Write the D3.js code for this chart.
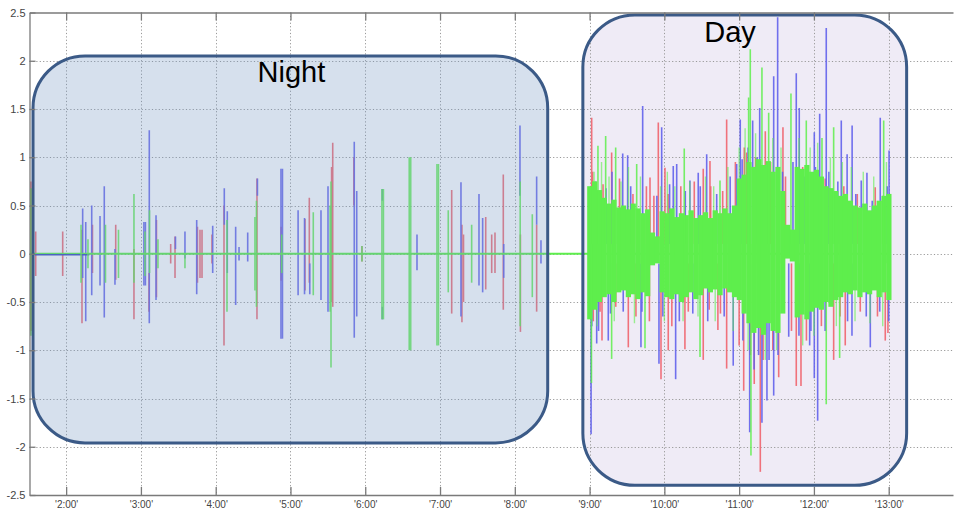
<!DOCTYPE html>
<html><head><meta charset="utf-8">
<script src="https://cdn.jsdelivr.net/npm/d3@7"></script>
<style>
body{margin:0;background:#fff}
svg{display:block}
text{font-family:"Liberation Sans",Arial,Helvetica,sans-serif}
</style>
</head><body>
<svg id="c" width="954" height="512"></svg>
<script>
// ---------- DATA ----------
const yTicks = [2.5, 2, 1.5, 1, 0.5, 0, -0.5, -1, -1.5, -2, -2.5];
const xTickHours = [2, 3, 4, 5, 6, 7, 8, 9, 10, 11, 12, 13];
const xTickLabels = ["'2:00'", "'3:00'", "'4:00'", "'5:00'", "'6:00'", "'7:00'", "'8:00'", "'9:00'", "'10:00'", "'11:00'", "'12:00'", "'13:00'"];
const timeDomain = [1.51, 13.86];
const periods = [
  {name: "Night", start: 1.557, end: 8.44, top: 2.05, bottom: -1.96},
  {name: "Day", start: 8.91, end: 13.24, top: 2.475, bottom: -2.4}
];

// spikes: [time (h), upper value, lower value]
const redSpikes = [
  [1.528, 0.75, -0.80], [1.593, 0.23, -0.23], [1.954, 0.23, -0.23], [2.212, 0.25, -0.72], [2.352, 0.30, -0.20],
  [2.663, 0.30, -0.27], [2.907, 0.05, -0.68], [3.108, -0.20, -0.60], [3.208, 0.35, -0.45], [3.398, 0.10, -0.10],
  [3.456, 0.18, -0.25], [3.756, 0.28, -0.30], [3.790, 0.25, -0.25], [3.817, 0.25, -0.25], [3.950, 0.20, -0.10],
  [4.111, 0.50, -0.95], [4.552, 0.78, -0.68], [4.875, 0.28, -0.28], [5.194, 0.36, -0.38], [5.252, 0.58, -0.30],
  [5.550, 0.90, -0.50], [5.565, 1.15, -0.55], [5.848, 1.00, 0.50], [5.956, 0.08, -0.08], [7.156, 0.66, -0.62],
  [7.293, 0.30, -0.71], [7.314, 0.20, -0.50], [7.611, 0.38, -0.37], [7.691, 0.20, -0.20], [7.735, 0.22, -0.20],
  [7.846, 0.82, -0.58], [8.075, 0.20, -0.81], [8.292, 0.30, -0.60],
  // day, upward
  [9.028, 1.41, 0.1], [9.295, 1.05, 0.1], [9.808, 0.79, 0.0], [9.919, 1.36, 0.1], [10.008, 0.89, 0.1],
  [10.520, 0.88, 0.1], [10.610, 0.96, 0.1], [10.833, 1.39, 0.1], [11.069, 1.10, 0.1], [11.350, 1.27, 0.1],
  [11.586, 1.31, 0.1], [12.820, 0.69, 0.1],
  [9.04, 0.85, 0.1], [9.18, 0.72, 0.1], [9.40, 0.78, 0.1], [9.58, 0.62, 0.1], [9.76, 0.70, 0.1], [9.86, 0.60, 0.0],
  [10.05, 0.62, 0.1], [10.22, 0.70, 0.1], [10.40, 0.75, 0.1], [10.62, 0.70, 0.1], [10.78, 0.65, 0.1], [10.95, 0.95, 0.1],
  [11.10, 1.05, 0.1], [11.22, 1.00, 0.1], [11.42, 0.95, 0.1], [11.62, 0.80, 0.0], [11.85, 0.90, 0.1], [12.15, 0.78, 0.1],
  [12.40, 0.70, 0.1], [12.58, 0.62, 0.1], [12.92, 0.60, 0.1],
  // day, downward
  [9.166, -0.1, -0.90], [9.518, -0.1, -0.97], [9.955, -0.1, -1.30], [10.052, -0.1, -1.00], [10.275, -0.1, -0.99],
  [10.520, -0.1, -1.10], [10.716, -0.1, -0.79], [10.833, -0.1, -1.19], [11.061, -0.1, -1.42], [11.202, -0.1, -1.35],
  [11.283, -0.1, -2.26], [11.529, -0.1, -1.28], [11.764, -0.1, -1.37], [11.827, -0.1, -1.37], [12.264, -0.1, -1.10],
  [12.419, -0.1, -0.95], [12.954, -0.1, -0.90],
  [9.05, -0.1, -0.70], [9.14, -0.1, -0.60], [9.35, -0.1, -0.55], [9.62, -0.1, -0.65], [9.80, -0.1, -0.70], [10.10, -0.1, -0.75],
  [10.32, -0.1, -0.60], [10.60, -0.1, -0.58], [10.75, -0.1, -0.62], [11.00, -0.1, -0.95], [11.15, -0.1, -1.05], [11.32, -0.1, -1.10],
  [11.45, -0.1, -1.00], [11.70, -0.1, -0.80], [11.90, -0.1, -0.90], [12.10, -0.1, -0.75], [12.35, -0.1, -0.65], [12.62, -0.1, -0.60],
  [12.85, -0.1, -0.65], [12.99, -0.1, -0.82]
];

const blueSpikes = [
  [2.221, 0.47, -0.25], [2.262, 0.33, -0.70], [2.342, 0.50, -0.43], [2.453, 0.39, -0.33], [2.510, 0.70, -0.66],
  [2.653, 0.05, -0.32], [3.040, 0.33, -0.33], [3.060, 0.33, -0.33], [3.112, 1.28, -0.72], [3.202, 0.40, -0.48],
  [3.462, 0.18, 0.05], [3.589, 0.23, -0.05], [3.746, 0.35, -0.42], [3.960, 0.29, -0.20], [4.115, 0.68, 0.30],
  [4.155, 0.44, -0.20], [4.267, 0.28, -0.53], [4.312, 0.07, -0.07], [4.428, 0.22, -0.08], [4.558, 0.78, 0.60],
  [4.873, 0.88, -0.88], [4.893, 0.88, -0.88], [5.102, 0.45, -0.43], [5.188, 0.37, -0.42], [5.258, -0.10, -0.42],
  [5.408, 0.45, -0.48], [5.502, 0.70, -0.60], [5.853, 1.16, -0.87], [5.886, 0.65, -0.65], [6.228, 0.67, 0.55],
  [6.228, -0.55, -0.68], [6.692, 0.20, -0.17], [7.280, 0.74, -0.65], [7.521, 0.62, -0.33], [7.570, 0.37, -0.40],
  [7.852, 0.10, -0.25], [8.069, 1.33, 0.60], [8.292, 0.80, 0.30], [8.350, 0.14, -0.10],
  // day, upward
  [9.443, 1.04, 0.1], [9.509, 1.02, 0.1], [9.710, 1.53, 0.1], [9.964, 1.31, 0.1], [10.119, 0.91, 0.1],
  [10.165, 0.93, 0.1], [10.342, 0.76, 0.1], [10.453, 0.84, 0.1], [10.566, 1.03, 0.1], [10.967, 0.93, 0.1],
  [11.015, 1.39, 0.1], [11.181, 1.38, 0.1], [11.275, 1.51, 0.1], [11.462, 1.84, 0.1], [11.515, 2.45, 0.1],
  [11.764, 1.87, 0.1], [11.804, 1.51, 0.1], [12.005, 1.26, 0.1], [12.077, 1.45, 0.1], [12.165, 2.34, 0.1],
  [12.366, 1.38, 0.1], [12.444, 1.03, 0.1], [12.511, 1.33, 0.1], [12.633, 0.76, 0.1], [12.709, 0.84, 0.1],
  [12.887, 1.41, 0.1], [13.005, 1.07, 0.1],
  [9.08, 0.75, 0.1], [9.22, 0.68, 0.1], [9.30, 0.85, 0.1], [9.55, 0.70, 0.1], [9.90, 0.60, 0.1], [10.07, 0.72, 0.1],
  [10.28, 0.65, 0.1], [10.48, 0.70, 0.1], [10.70, 0.62, 0.1], [10.88, 0.80, 0.1], [11.04, 0.98, 0.1], [11.12, 1.10, 0.1],
  [11.24, 1.00, 0.1], [11.36, 0.92, 0.1], [11.58, 0.85, 0.1], [11.72, 0.95, 0.0], [11.88, 0.80, 0.1], [12.02, 0.90, 0.1],
  [12.20, 0.85, 0.1], [12.32, 0.75, 0.1], [12.56, 0.62, 0.1], [12.78, 0.55, 0.1], [12.98, 0.70, 0.1],
  // day, downward
  [9.020, -0.1, -1.87], [9.095, -0.1, -0.93], [9.250, -0.1, -0.90], [9.687, -0.1, -0.97], [9.928, -0.1, -1.14],
  [10.151, -0.1, -1.30], [10.921, -0.1, -1.16], [11.141, -0.1, -1.85], [11.305, -0.1, -1.75], [11.372, -0.1, -1.52],
  [11.462, -0.1, -1.47], [11.663, -0.1, -0.86], [11.943, -0.1, -0.95], [12.005, -0.1, -1.29], [12.050, -0.1, -1.73],
  [12.509, -0.1, -0.85], [12.754, -0.1, -0.97],
  [9.03, -0.1, -0.75], [9.12, -0.1, -0.80], [9.28, -0.1, -0.62], [9.45, -0.1, -0.60], [9.70, -0.1, -0.60], [9.98, -0.1, -0.65],
  [10.20, -0.1, -0.70], [10.38, -0.1, -0.62], [10.58, -0.1, -0.70], [10.80, -0.1, -0.65], [11.05, -0.1, -0.90], [11.20, -0.1, -1.20],
  [11.26, -0.1, -1.05], [11.40, -0.1, -1.10], [11.52, -0.1, -1.05], [11.80, -0.1, -0.85], [11.96, -0.1, -0.80], [12.15, -0.1, -0.80],
  [12.45, -0.1, -0.70], [12.70, -0.1, -0.65], [12.88, -0.1, -0.60], [13.00, -0.1, -0.70]
];

const greenSpikes = [
  [1.528, 0.68, -0.85], [2.199, 0.30, -0.30], [2.292, 0.15, -0.15], [2.526, 0.30, -0.30], [2.700, 0.25, -0.25],
  [2.907, 0.62, -0.30], [3.054, 0.23, -0.23], [3.115, 0.45, -0.20], [3.228, 0.15, -0.15], [3.589, 0.00, -0.15],
  [4.151, 0.35, -0.60], [4.525, 0.38, -0.38], [4.545, 0.55, -0.55], [4.883, 0.20, -0.20], [5.305, 0.43, -0.43],
  [5.530, 0.50, -0.60], [5.542, 0.75, -1.18], [5.956, 0.08, -0.08], [6.223, 0.67, -0.68], [6.243, 0.67, -0.68],
  [6.588, 1.00, -1.00], [6.608, 1.00, -1.00], [6.959, 0.93, -0.95], [6.979, 0.93, -0.95], [7.110, 0.45, -0.40],
  [7.423, 0.30, -0.30], [8.072, 0.75, -0.75], [8.234, 0.41, -0.45],
  // day
  [9.025, 0.10, -1.34], [9.112, 1.12, 0.1], [9.215, 1.22, 0.1], [9.295, 0.1, -1.09], [9.349, 1.10, 0.1],
  [9.630, 0.93, 0.1], [9.741, 0.1, -0.98], [10.266, 1.09, 0.1], [10.477, 0.1, -1.07], [10.744, 0.76, 0.1],
  [11.127, 1.62, 0.1], [11.149, 2.12, 0.1], [11.158, 0.1, -2.09], [11.305, 1.93, 0.1], [11.395, 1.46, 0.1],
  [11.693, 1.66, 0.1], [11.898, 1.38, 0.1], [12.108, 1.20, 0.1], [12.165, 0.1, -1.56], [12.264, 1.31, 0.1],
  [12.344, 0.1, -1.08], [12.933, 1.38, 0.1]
];

// lighter daytime green strokes that stick out of the dense band
const greenDayStrokes = [
  [9.06, 0.85, -0.1], [9.16, 0.95, -0.1], [9.26, 0.80, -0.1], [9.42, 0.75, -0.1], [9.52, 0.90, -0.1], [9.68, 0.80, -0.1],
  [9.95, 0.70, -0.1], [10.04, 0.85, -0.1], [10.14, 0.70, -0.1], [10.34, 0.75, -0.1], [10.55, 0.80, -0.1], [10.66, 0.70, -0.1],
  [10.85, 0.90, -0.1], [11.00, 1.10, -0.1], [11.08, 1.30, -0.1], [11.22, 1.25, -0.1], [11.45, 1.20, -0.1], [11.56, 1.10, -0.1],
  [11.80, 1.20, -0.1], [11.95, 1.10, -0.1], [12.05, 1.15, -0.1], [12.22, 1.00, -0.1], [12.38, 0.95, -0.1], [12.50, 0.90, -0.1],
  [12.66, 0.85, -0.1], [12.80, 0.80, -0.1], [12.97, 0.95, -0.1],
  [9.10, 0.1, -0.75], [9.33, 0.1, -0.70], [9.60, 0.1, -0.72], [10.00, 0.1, -0.70], [10.25, 0.1, -0.70], [10.45, 0.1, -0.65],
  [10.68, 0.1, -0.70], [10.92, 0.1, -0.80], [11.12, 0.1, -1.00], [11.35, 0.1, -1.10], [11.50, 0.1, -1.00], [11.85, 0.1, -0.95],
  [12.00, 0.1, -0.85], [12.30, 0.1, -0.75], [12.55, 0.1, -0.70], [12.75, 0.1, -0.72], [12.92, 0.1, -0.75]
];

// dense daytime green band, upper and lower envelope from 9:00 to 13:00
const dayBandStart = 9.0, dayBandEnd = 13.0;
const dayGreenTop = [0.70, 0.75, 0.66,
  0.58, 0.52, 0.56, 0.48, 0.50, 0.46, 0.52, 0.47, 0.42, 0.46,
  0.22, 0.18,
  0.44, 0.42, 0.47, 0.38, 0.42, 0.40, 0.45, 0.37, 0.40, 0.43, 0.37, 0.45, 0.42, 0.47, 0.42, 0.50,
  0.78, 0.82, 0.95, 0.90, 0.98, 0.92, 0.96, 0.85, 0.90, 0.65,
  0.30, 0.25,
  0.90, 0.88, 0.92, 0.85, 0.87, 0.80,
  0.70, 0.68, 0.65, 0.60, 0.62, 0.55, 0.50, 0.48, 0.52, 0.45, 0.50, 0.55, 0.60, 0.62];
const dayGreenBottom = [-0.68, -0.58, -0.50,
  -0.45, -0.42, -0.50, -0.40, -0.38, -0.45, -0.42, -0.47, -0.40, -0.44,
  -0.12, -0.10,
  -0.40, -0.45, -0.47, -0.42, -0.50, -0.45, -0.40, -0.47, -0.43, -0.36, -0.40, -0.37, -0.43, -0.36, -0.40, -0.45,
  -0.48, -0.62, -0.72, -0.82, -0.77, -0.84, -0.72, -0.80, -0.82, -0.62,
  -0.05, -0.08,
  -0.66, -0.63, -0.68, -0.60, -0.56, -0.58,
  -0.50, -0.55, -0.48, -0.45, -0.40, -0.42, -0.38, -0.45, -0.40, -0.42, -0.38, -0.45, -0.40, -0.48];

const greenBaseline = [[1.51, 0], [13.0, 0]];
const blueBaseline = [[1.58, -0.01], [2.31, -0.01]];

// ---------- DRAW ----------
const W = 954, H = 512;
const svg = d3.select("#c");
const x = d3.scaleLinear().domain(timeDomain).range([29.5, 953]);
const y = d3.scaleLinear().domain([-2.5, 2.5]).range([495, 12.5]);
const C = {red: "#f0646e", blue: "#6262ec", green: "#5eee4c", box: "#3b5a87"};

svg.append("defs").append("clipPath").attr("id", "plot")
  .append("rect").attr("x", x.range()[0]).attr("y", y(2.5)).attr("width", W - x.range()[0]).attr("height", y(-2.5) - y(2.5));

const boxR = 52;
function boxAttrs(sel, p) {
  sel.attr("x", x(p.start)).attr("y", y(p.top))
    .attr("width", x(p.end) - x(p.start)).attr("height", y(p.bottom) - y(p.top))
    .attr("rx", boxR).attr("ry", boxR);
}

// day box fill (under data)
svg.append("rect").call(boxAttrs, periods[1]).attr("fill", "#efebf6");

// grid
const grid = svg.append("g").attr("stroke", "#9a9a9a").attr("stroke-width", 1).attr("stroke-dasharray", "1.2,2.2");
grid.selectAll(".v").data(xTickHours).join("line")
  .attr("x1", d => Math.round(x(d)) + 0.5).attr("x2", d => Math.round(x(d)) + 0.5)
  .attr("y1", y(2.5)).attr("y2", y(-2.5));
grid.selectAll(".h").data(yTicks.filter(d => d !== 2.5 && d !== -2.5)).join("line")
  .attr("y1", d => Math.round(y(d)) + 0.5).attr("y2", d => Math.round(y(d)) + 0.5)
  .attr("x1", x.range()[0]).attr("x2", W);

// data
const data = svg.append("g").attr("clip-path", "url(#plot)");
function spikes(arr, color, w, op) {
  data.append("g").selectAll("line").data(arr).join("line")
    .attr("x1", d => x(d[0])).attr("x2", d => x(d[0]))
    .attr("y1", d => y(d[1])).attr("y2", d => y(d[2]))
    .attr("stroke", color).attr("stroke-width", w).attr("stroke-opacity", op);
}
spikes(redSpikes, C.red, 1.6, 0.9);
spikes(blueSpikes, C.blue, 1.6, 0.9);
spikes(greenDayStrokes, C.green, 1.4, 0.6);

const line = d3.line().x(d => x(d[0])).y(d => y(d[1]));
data.append("path").datum(greenBaseline).attr("d", line).attr("fill", "none").attr("stroke", C.green).attr("stroke-width", 2);
data.append("path").datum(blueBaseline).attr("d", line).attr("fill", "none").attr("stroke", "#3a4fc0").attr("stroke-width", 1.6);

const n = dayGreenTop.length;
const bandT = d3.scaleLinear().domain([0, n - 1]).range([dayBandStart, dayBandEnd]);
const bw = x(bandT(1)) - x(bandT(0));
data.append("g").selectAll("rect").data(dayGreenTop).join("rect")
  .attr("x", (d, i) => x(bandT(i)) - bw / 2)
  .attr("width", bw + 0.4)
  .attr("y", d => y(d))
  .attr("height", (d, i) => y(dayGreenBottom[i]) - y(d))
  .attr("fill", C.green);

spikes(greenSpikes, C.green, 1.6, 0.85);

// night overlay box
svg.append("rect").call(boxAttrs, periods[0]).attr("fill", "rgb(118,152,195)").attr("fill-opacity", 0.3);

// box outlines
periods.forEach(p => {
  svg.append("rect").call(boxAttrs, p).attr("fill", "none").attr("stroke", C.box).attr("stroke-width", 3);
});

// axes
const axisColor = "#7a7a7a";
const gx = svg.append("g").attr("transform", `translate(0,${y(-2.5)})`)
  .call(d3.axisBottom(x).tickValues(xTickHours).tickSize(-8).tickSizeOuter(0).tickPadding(6)
    .tickFormat((d, i) => xTickLabels[i]));
const gt = svg.append("g").attr("transform", `translate(0,${y(2.5)})`)
  .call(d3.axisTop(x).tickValues(xTickHours).tickSize(-8).tickSizeOuter(0).tickFormat(""));
const gy = svg.append("g").attr("transform", `translate(${x.range()[0]},0)`)
  .call(d3.axisLeft(y).tickValues(yTicks).tickSize(-6).tickSizeOuter(0).tickPadding(4).tickFormat(d => String(d)));
[gx, gt, gy].forEach(g => {
  g.select(".domain").attr("stroke", axisColor).attr("stroke-width", 1.3);
  g.selectAll(".tick line").attr("stroke", axisColor).attr("stroke-width", 1.3);
  g.selectAll(".tick text").attr("fill", "#444").style("font-family", '"Liberation Sans", Arial, sans-serif');
});
gx.selectAll(".tick text").style("font-size", "10px");
gy.selectAll(".tick text").style("font-size", "11px");

// period labels
svg.append("text").attr("x", (x(periods[0].start) + x(periods[0].end)) / 2 + 1).attr("y", 82)
  .attr("text-anchor", "middle").attr("font-size", 29).attr("fill", "#000").text(periods[0].name);
svg.append("text").attr("x", 730).attr("y", 42)
  .attr("text-anchor", "middle").attr("font-size", 29).attr("fill", "#000").text(periods[1].name);
</script>
</body></html>
